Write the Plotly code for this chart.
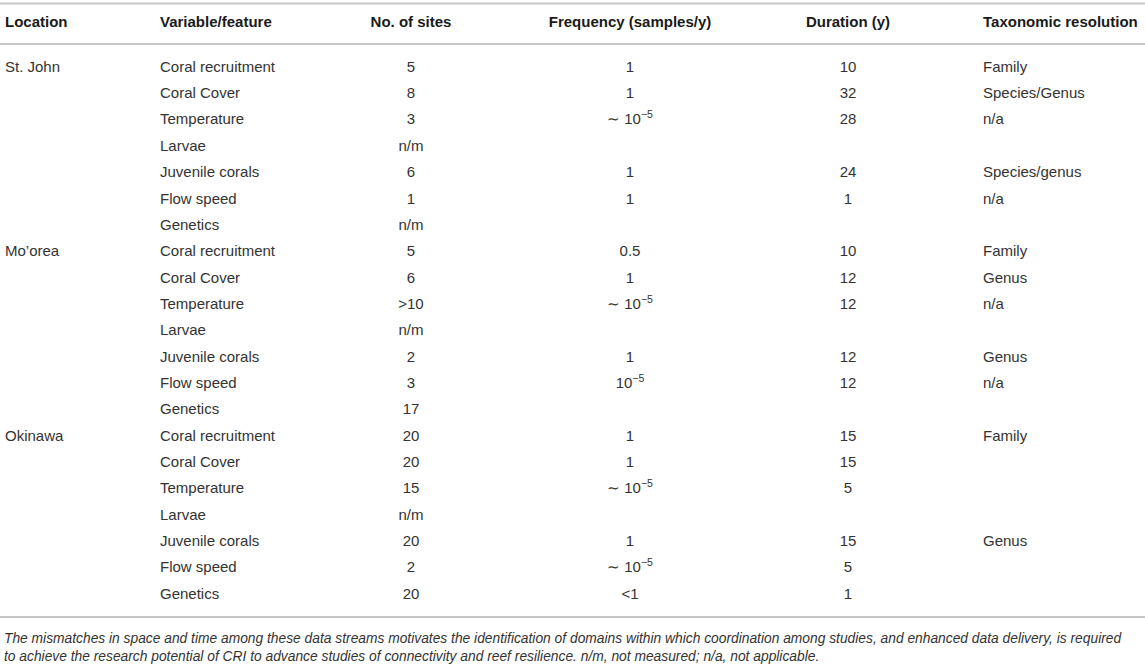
import plotly.graph_objects as go

# ==== table content ====
headers = ["Location", "Variable/feature", "No. of sites",
           "Frequency (samples/y)", "Duration (y)", "Taxonomic resolution"]

locations = ["St. John", "", "", "", "", "", "",
             "Mo\u2019orea", "", "", "", "", "", "",
             "Okinawa", "", "", "", "", "", ""]

variables = ["Coral recruitment", "Coral Cover", "Temperature", "Larvae",
             "Juvenile corals", "Flow speed", "Genetics"] * 3

sites = ["5", "8", "3", "n/m", "6", "1", "n/m",
         "5", "6", "&gt;10", "n/m", "2", "3", "17",
         "20", "20", "15", "n/m", "20", "2", "20"]

frequency = ["1", "1", "\u223c 10<sup>\u22125</sup>", "", "1", "1", "",
             "0.5", "1", "\u223c 10<sup>\u22125</sup>", "", "1", "10<sup>\u22125</sup>", "",
             "1", "1", "\u223c 10<sup>\u22125</sup>", "", "1", "\u223c 10<sup>\u22125</sup>", "&lt;1"]

duration = ["10", "32", "28", "", "24", "1", "",
            "10", "12", "12", "", "12", "12", "",
            "15", "15", "5", "", "15", "5", "1"]

taxonomy = ["Family", "Species/Genus", "n/a", "", "Species/genus", "n/a", "",
            "Family", "Genus", "n/a", "", "Genus", "n/a", "",
            "Family", "", "", "", "Genus", "", ""]

caption = ("The mismatches in space and time among these data streams motivates the identification of "
           "domains within which coordination among studies, and enhanced data delivery, is required<br>"
           "to achieve the research potential of CRI to advance studies of connectivity and reef "
           "resilience. n/m, not measured; n/a, not applicable.")

# ==== layout settings ====
W, H = 1145, 665
FONT = "Liberation Sans, Arial, Helvetica, sans-serif"
col_x = [5, 160, 411, 630, 848, 983]
col_pos = ["middle right", "middle right", "middle center",
           "middle center", "middle center", "middle right"]
header_y = 23
row0_y, row_h = 68, 26.35
rule_color = "#c6c6c6"

row_y = [row0_y + i * row_h for i in range(len(variables))]
columns = [locations, variables, sites, frequency, duration, taxonomy]

fig = go.Figure()

for j, col in enumerate(columns):
    # skip the empty cells
    ys = [y for y, t in zip(row_y, col) if t]
    ts = [t for t in col if t]
    fig.add_trace(go.Scatter(
        x=[col_x[j]] * len(ts),
        y=ys,
        text=ts,
        mode="text",
        textposition=col_pos[j],
        textfont=dict(family=FONT, size=15, color="#333333"),
        hoverinfo="skip",
        showlegend=False,
    ))

    fig.add_trace(go.Scatter(
        x=[col_x[j]],
        y=[header_y],
        text=[headers[j]],
        mode="text",
        textposition=col_pos[j],
        textfont=dict(family=FONT, size=15, color="#1a1a1a", weight="bold"),
        hoverinfo="skip",
        showlegend=False,
    ))

# horizontal rules
for y in [3.5, 44, 617]:
    fig.add_shape(type="line", xref="x", yref="y", x0=0, x1=W, y0=y, y1=y,
                  line=dict(color=rule_color, width=2))

fig.add_annotation(
    x=2, y=647.5, xref="x", yref="y",
    text="<i>" + caption + "</i>",
    showarrow=False, xanchor="left", yanchor="middle", align="left",
    font=dict(family=FONT, size=13.8, color="#333333"),
)

fig.update_layout(
    width=W, height=H,
    margin=dict(l=0, r=0, t=0, b=0),
    paper_bgcolor="white", plot_bgcolor="white",
    xaxis=dict(range=[0, W], visible=False, fixedrange=True),
    yaxis=dict(range=[H, 0], visible=False, fixedrange=True),
)

# the page body has an 8px default margin, drop it so the figure sits at 0,0
fig.write_html("out.html", config={"displayModeBar": False},
               post_script="document.body.style.margin='0px';")
